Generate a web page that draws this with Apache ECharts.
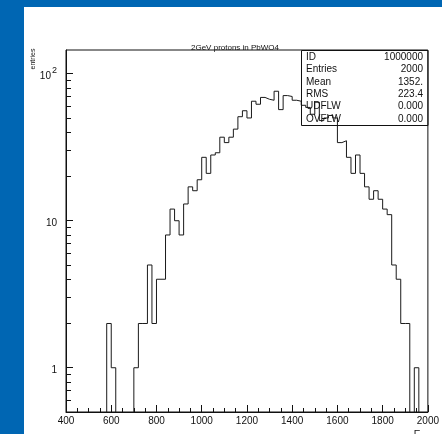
<!DOCTYPE html>
<html>
<head>
<meta charset="utf-8">
<script src="https://cdn.jsdelivr.net/npm/echarts@6/dist/echarts.min.js"></script>
<style>
  html, body { margin: 0; padding: 0; width: 442px; height: 434px; background: #0066b3; overflow: hidden; }
  #chart { position: absolute; left: 24px; top: 7px; width: 418px; height: 427px; background: #fff; }
</style>
</head>
<body>
<div id="chart"></div>
<script>
// histogram: 80 bins of width 20 from 400 to 2000
var binLow = 400;
var binWidth = 20;
var counts = [
  0, 0, 0, 0, 0, 0, 0, 0, 0, 2,      // 400 - 580
  1, 0, 0, 0, 0, 1, 2, 2, 5, 2,      // 600 - 780
  4, 4, 8, 12, 10, 8, 13, 17, 16, 19, // 800 - 980
  27, 21, 28, 29, 37, 34, 37, 42, 51, 56, // 1000 - 1180
  50, 65, 62, 69, 67, 66, 76, 57, 71, 70, // 1200 - 1380
  66, 65, 61, 59, 53, 64, 48, 50, 52, 50, // 1400 - 1580
  34, 35, 27, 21, 28, 21, 17, 14, 16, 14, // 1600 - 1780
  12, 11, 5, 4, 2, 2, 0, 1, 0, 0      // 1800 - 1980
];

var yMajor = [1, 10, 100];
var yMinor = [0.6, 0.7, 0.8, 0.9, 2, 3, 4, 5, 6, 7, 8, 9, 20, 30, 40, 50, 60, 70, 80, 90];

var statLabels = ['ID', 'Entries', 'Mean', 'RMS', 'UDFLW', 'OVFLW'];
var statValues = ['1000000', '2000', '1352.', '223.4', '0.000', '0.000'];

var titleText = '2GeV protons in PbWO4';

// step points at the left edge of each bin, empty bins pushed below the axis
var stepData = counts.map(function (v, i) {
  return [binLow + i * binWidth, v > 0 ? v : 0.1];
});
stepData.push([binLow + counts.length * binWidth, counts[counts.length - 1] > 0 ? counts[counts.length - 1] : 0.1]);

var font = 'Liberation Sans, Arial, sans-serif';
var ink = '#111';

var chart = echarts.init(document.getElementById('chart'), null, { renderer: 'canvas' });

var statGraphics = [{
  type: 'rect',
  shape: { x: 277.5, y: 43.5, width: 126.5, height: 75 },
  style: { fill: 'none', stroke: ink, lineWidth: 1 },
  z: 10
}];
statLabels.forEach(function (lab, i) {
  statGraphics.push({
    type: 'text', x: 282, y: 50 + i * 12.4, z: 11,
    style: { text: lab, font: '10px ' + font, fill: ink, textAlign: 'left', textVerticalAlign: 'middle' }
  });
  statGraphics.push({
    type: 'text', x: 399, y: 50 + i * 12.4, z: 11,
    style: { text: statValues[i], font: '10px ' + font, fill: ink, textAlign: 'right', textVerticalAlign: 'middle' }
  });
});

chart.setOption({
  animation: false,
  backgroundColor: '#fff',
  title: {
    text: titleText,
    left: 162,
    top: 32,
    textStyle: { fontSize: 8, fontWeight: 'normal', color: ink, fontFamily: font }
  },
  grid: {
    left: 42, top: 43, right: 14, bottom: 22,
    show: true, borderColor: ink, borderWidth: 1, backgroundColor: 'transparent'
  },
  xAxis: {
    type: 'value',
    min: 400,
    max: 2000,
    interval: 200,
    axisLine: { show: true, lineStyle: { color: ink } },
    axisTick: { show: true, inside: true, length: 7, lineStyle: { color: ink } },
    minorTick: { show: true, splitNumber: 4, length: 4, lineStyle: { color: ink } },
    splitLine: { show: false },
    axisLabel: {
      color: ink, fontSize: 10, fontFamily: font, margin: 4,
      formatter: function (v) { return String(v); }
    }
  },
  yAxis: [{
    type: 'log',
    logBase: 10,
    min: 0.5,
    max: 145,
    axisLine: { show: true, lineStyle: { color: ink } },
    axisTick: { show: true, inside: true, length: 7, customValues: yMajor, lineStyle: { color: ink } },
    splitLine: { show: false },
    axisLabel: {
      customValues: yMajor,
      margin: 9,
      color: ink,
      fontSize: 10,
      fontFamily: font,
      formatter: function (v) {
        return v === 100 ? '{a|10}{b|2}' : '{a|' + v + '}';
      },
      rich: {
        a: { fontSize: 10, fontFamily: font, color: ink, lineHeight: 16, verticalAlign: 'bottom' },
        b: { fontSize: 9, fontFamily: font, color: ink, lineHeight: 16, verticalAlign: 'top', padding: [0, 0, 0, 1] }
      }
    }
  }, {
    type: 'log',
    logBase: 10,
    min: 0.5,
    max: 145,
    position: 'left',
    axisLine: { show: false },
    axisTick: { show: true, inside: true, length: 5, customValues: yMinor, lineStyle: { color: ink } },
    splitLine: { show: false },
    axisLabel: { show: false }
  }],
  graphic: [{
    type: 'text', x: 9, y: 52, rotation: Math.PI / 2,
    style: { text: 'entries', font: '7px ' + font, fill: ink, textAlign: 'center', textVerticalAlign: 'middle' }
  }, {
    type: 'text', x: 393, y: 423,
    style: { text: 'E', font: '10px ' + font, fill: ink, textAlign: 'center', textVerticalAlign: 'top' }
  }].concat(statGraphics),
  series: [{
    type: 'line',
    step: 'end',
    xAxisIndex: 0,
    yAxisIndex: 0,
    data: stepData,
    showSymbol: false,
    symbol: 'none',
    clip: true,
    lineStyle: { color: '#1a1a1a', width: 1 }
  }]
});
</script>
</body>
</html>
